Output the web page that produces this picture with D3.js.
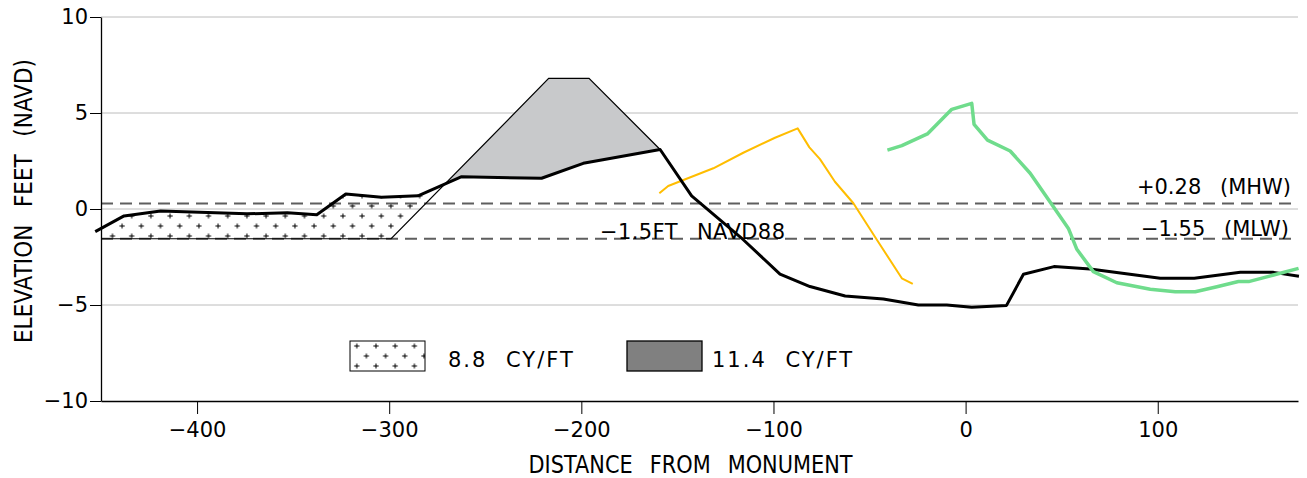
<!DOCTYPE html>
<html>
<head>
<meta charset="utf-8">
<script src="https://cdn.jsdelivr.net/npm/d3@7"></script>
<style>
  html, body { margin: 0; padding: 0; background: #fff; }
  svg { display: block; }
  text { font-family: "DejaVu Sans", sans-serif; fill: #000; }
</style>
</head>
<body>
<svg id="chart" width="1307" height="478"></svg>
<script>
// ---------------- DATA ----------------
const xTicks = [-400, -300, -200, -100, 0, 100];
const yTicks = [-10, -5, 0, 5, 10];
const gridValues = [-5, 0, 5, 10];

// existing profile (black)
const profileX = [-453, -438, -419, -374, -353, -337.7, -322.6, -304, -285, -262.3, -220.7, -199, -159, -142.6, -115.7, -96.6, -81, -62.7, -42.8, -24.6, -9.8, 3.2, 21.3, 30.1, 46, 64.8, 101.3, 119, 143, 160.3, 173.5];
const profileY = [-1.18, -0.36, -0.1, -0.25, -0.2, -0.3, 0.78, 0.61, 0.69, 1.68, 1.6, 2.38, 3.1, 0.68, -1.6, -3.39, -4.04, -4.53, -4.69, -5.0, -5.0, -5.12, -5.02, -3.4, -3.0, -3.13, -3.61, -3.61, -3.3, -3.3, -3.5];

// yellow profile
const yellowX = [-159.4, -154.8, -131.3, -115.7, -99.2, -87.4, -81.3, -75.8, -68, -58.4, -46.2, -33.2, -27.5];
const yellowY = [0.82, 1.2, 2.12, 2.93, 3.71, 4.2, 3.21, 2.6, 1.42, 0.3, -1.6, -3.61, -3.9];

// green profile
const greenX = [-40.7, -33.2, -19.9, -7.2, 3.2, 4.4, 11.4, 23.2, 33.6, 45.7, 53.5, 57.9, 66.5, 78.7, 96.1, 109.1, 119.5, 130.8, 142, 147.3, 160.3, 173.3];
const greenY = [3.07, 3.3, 3.91, 5.19, 5.5, 4.41, 3.59, 3.02, 1.86, 0.12, -1.01, -2.1, -3.26, -3.84, -4.18, -4.31, -4.31, -4.05, -3.78, -3.78, -3.44, -3.09];

// design template
const templateX = [-450, -299, -217, -196, -159];
const templateY = [-1.55, -1.55, 6.8, 6.8, 3.1];

// tide levels
const tideValues = [0.28, -1.55];
const tideLabels = ["+0.28 (MHW)", "\u22121.55 (MLW)"];
const navdLabel = "\u22121.5FT NAVD88";

const legendLabels = ["8.8 CY/FT", "11.4 CY/FT"];
const xTitle = "DISTANCE FROM MONUMENT";
const yTitle = "ELEVATION FEET (NAVD)";

// ---------------- LAYOUT ----------------
const svg = d3.select("#chart");
const X0 = 101, X1 = 1298, Y0 = 401, Y1 = 17;
const x = d3.scaleLinear().domain([-450, 173]).range([X0, X1]);
const y = d3.scaleLinear().domain([-10, 10]).range([Y0, Y1]);

const zip = (xs, ys) => xs.map((v, i) => [v, ys[i]]);
const profile = zip(profileX, profileY);
const yellow = zip(yellowX, yellowY);
const green = zip(greenX, greenY);
const template = zip(templateX, templateY);

const line = d3.line().x(d => x(d[0])).y(d => y(d[1]));

const defs = svg.append("defs");

// plus pattern
function plusPattern(id, ox, oy) {
  const p = defs.append("pattern").attr("id", id)
    .attr("patternUnits", "userSpaceOnUse")
    .attr("x", ox).attr("y", oy)
    .attr("width", 19.2).attr("height", 20);
  [[4.8, 5], [14.4, 15]].forEach(([cx, cy]) => {
    p.append("path")
      .attr("d", `M${cx - 2.6},${cy}H${cx + 2.6}M${cx},${cy - 2.6}V${cy + 2.6}`)
      .attr("stroke", "#000").attr("stroke-width", 1).attr("fill", "none");
  });
}
plusPattern("plus", 126.9, 211);
plusPattern("plusLegend", 352, 341);

// clip paths
const yTopVal = 10, yBotVal = -10;
const belowProfile = profile.concat([[profileX[profileX.length - 1], yBotVal], [profileX[0], yBotVal]]);
const aboveProfile = profile.concat([[profileX[profileX.length - 1], yTopVal], [profileX[0], yTopVal]]);
const aboveTemplate = template.concat([[templateX[templateX.length - 1], yTopVal], [templateX[0], yTopVal]]);
const belowTemplate = template.concat([[templateX[templateX.length - 1], yBotVal], [templateX[0], yBotVal]]);
const closed = pts => line(pts) + "Z";
defs.append("clipPath").attr("id", "cBelowProfile").append("path").attr("d", closed(belowProfile));
defs.append("clipPath").attr("id", "cAboveProfile").append("path").attr("d", closed(aboveProfile));
defs.append("clipPath").attr("id", "cAboveTemplate").append("path").attr("d", closed(aboveTemplate));
defs.append("clipPath").attr("id", "cBelowTemplate").append("path").attr("d", closed(belowTemplate));
defs.append("clipPath").attr("id", "cPlot").append("rect")
  .attr("x", X0).attr("y", Y1).attr("width", X1 - X0).attr("height", Y0 - Y1);

// grid
svg.append("g").selectAll("line").data(gridValues).join("line")
  .attr("x1", X0).attr("x2", X1)
  .attr("y1", d => y(d)).attr("y2", d => y(d))
  .attr("stroke", "#bcbcbc").attr("stroke-width", 1);

// fills
const hatchG = svg.append("g").attr("clip-path", "url(#cPlot)")
  .append("g").attr("clip-path", "url(#cBelowProfile)")
  .append("g").attr("clip-path", "url(#cAboveTemplate)");
hatchG.append("rect")
  .attr("x", x(-450)).attr("width", x(-159) - x(-450))
  .attr("y", Y1).attr("height", Y0 - Y1)
  .attr("fill", "url(#plus)");

const grayG = svg.append("g").attr("clip-path", "url(#cAboveProfile)")
  .append("g").attr("clip-path", "url(#cBelowTemplate)");
grayG.append("rect")
  .attr("x", x(-300)).attr("width", x(-159) - x(-300))
  .attr("y", Y1).attr("height", Y0 - Y1)
  .attr("fill", "#c8c9cb");

// tide dashed lines
svg.append("g").selectAll("line").data(tideValues).join("line")
  .attr("x1", X0).attr("x2", X1)
  .attr("y1", d => y(d)).attr("y2", d => y(d))
  .attr("stroke", "#5e5e5e").attr("stroke-width", 2)
  .attr("stroke-dasharray", "12,7");

// template line
svg.append("path").attr("d", line(template))
  .attr("fill", "none").attr("stroke", "#000").attr("stroke-width", 1.2);

// profiles
svg.append("path").attr("d", line(yellow))
  .attr("fill", "none").attr("stroke", "#ffbd00").attr("stroke-width", 2)
  .attr("stroke-linejoin", "round");
svg.append("path").attr("d", line(profile))
  .attr("fill", "none").attr("stroke", "#000").attr("stroke-width", 3)
  .attr("stroke-linejoin", "round");
svg.append("path").attr("d", line(green))
  .attr("fill", "none").attr("stroke", "#6fdc8c").attr("stroke-width", 3.5)
  .attr("stroke-linejoin", "round");

// axes
const xAxis = svg.append("g").attr("transform", `translate(0,${Y0})`)
  .call(d3.axisBottom(x).tickValues(xTicks).tickSize(13).tickSizeOuter(0).tickPadding(8)
    .tickFormat(d3.format("d")));
const yAxis = svg.append("g").attr("transform", `translate(${X0},0)`)
  .call(d3.axisLeft(y).tickValues(yTicks).tickSize(11).tickSizeOuter(0).tickPadding(2)
    .tickFormat(d3.format("d")));
[xAxis, yAxis].forEach(a => {
  a.selectAll("path.domain").attr("stroke", "#000").attr("stroke-width", 1.3);
  a.selectAll(".tick line").attr("stroke", "#000").attr("stroke-width", 1);
  a.selectAll(".tick text").attr("font-size", 21).attr("font-family", "DejaVu Sans").attr("fill", "#000");
});

// axis titles
svg.append("text")
  .attr("x", (x(-450) + x(173)) / 2 - 9).attr("y", 473)
  .attr("text-anchor", "middle").attr("font-size", 24)
  .attr("word-spacing", 12)
  .attr("textLength", 324).attr("lengthAdjust", "spacingAndGlyphs")
  .text(xTitle);
svg.append("text")
  .attr("transform", `translate(32,${(Y0 + Y1) / 2 - 8}) rotate(-90)`)
  .attr("text-anchor", "middle").attr("font-size", 24)
  .attr("word-spacing", 12)
  .attr("textLength", 284).attr("lengthAdjust", "spacingAndGlyphs")
  .text(yTitle);

// tide labels
svg.append("g").selectAll("text").data(tideValues).join("text")
  .attr("x", (d, i) => X1 - 7 - i * 2)
  .attr("y", (d, i) => y(d) - (i === 0 ? 9.5 : 2.5))
  .attr("text-anchor", "end").attr("font-size", 21)
  .attr("word-spacing", 12)
  .text((d, i) => tideLabels[i]);
svg.append("text")
  .attr("x", 600).attr("y", y(-1.55) + 0.5)
  .attr("font-size", 21).attr("word-spacing", 12).attr("letter-spacing", 0.4)
  .text(navdLabel);

// legend
const legend = svg.append("g");
legend.append("rect").attr("x", 350).attr("y", 341).attr("width", 75).attr("height", 30)
  .attr("fill", "url(#plusLegend)").attr("stroke", "#000").attr("stroke-width", 1);
legend.append("text").attr("x", 448).attr("y", 366.5).attr("font-size", 21)
  .attr("word-spacing", 10).attr("letter-spacing", 2).text(legendLabels[0]);
legend.append("rect").attr("x", 627).attr("y", 341).attr("width", 75).attr("height", 30)
  .attr("fill", "#808080").attr("stroke", "#000").attr("stroke-width", 1.3);
legend.append("text").attr("x", 712).attr("y", 366.5).attr("font-size", 21)
  .attr("word-spacing", 10).attr("letter-spacing", 2).text(legendLabels[1]);
</script>
</body>
</html>
